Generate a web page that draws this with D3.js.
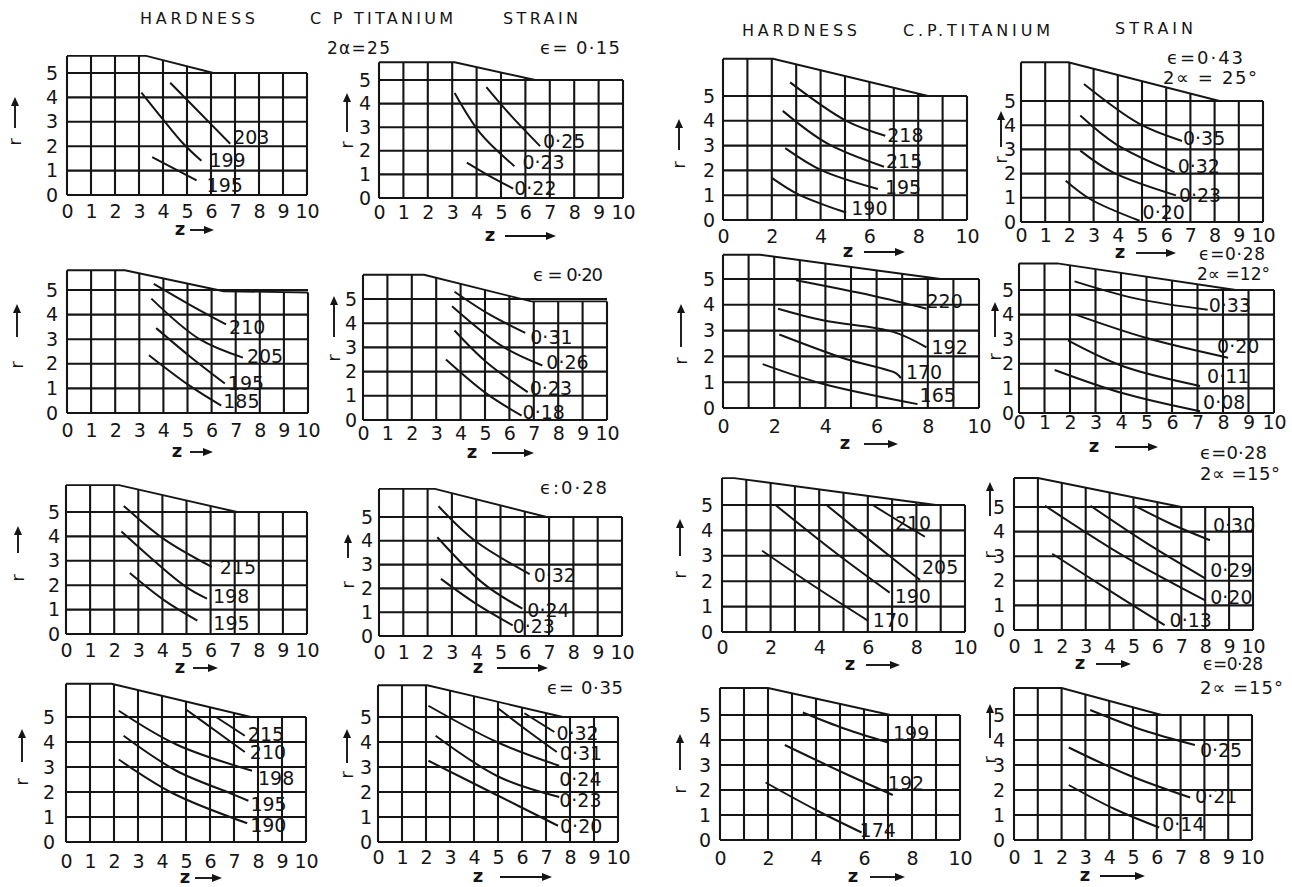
<!DOCTYPE html>
<html><head><meta charset="utf-8">
<script src="https://cdn.jsdelivr.net/npm/d3@7"></script>
<style>
body{margin:0;background:#fff}
svg{display:block;background:#fff}
text{font-family:"DejaVu Sans",sans-serif;fill:#151515}
</style></head><body>
<svg id="c" width="1292" height="887"></svg>
<script>
// ================= DATA =================
const ticksAll = [0,1,2,3,4,5,6,7,8,9,10];
const ticksEven = [0,2,4,6,8,10];
const rTicks = [0,1,2,3,4,5];

const annoTexts = ["HARDNESS","C P TITANIUM","STRAIN","2α=25","ϵ= 0·15","ϵ = 0·20","ϵ:0·28","ϵ= 0·35",
  "HARDNESS","C.P.TITANIUM","STRAIN","ϵ=0·43","2∝ = 25°","ϵ=0·28","2∝ =12°","ϵ=0·28","2∝ =15°","ϵ=0·28","2∝ =15°"];

// Left column A (hardness), column B (strain); right column C (hardness), D (strain)
const a1Labels = ["203","199","195"];
const a1Curves = [[[4.3,4.6],[5.5,3.4],[6.8,2.1]],[[3.1,4.2],[4.0,3.1],[4.85,2.1],[5.6,1.4]],[[3.55,1.55],[5.4,0.6]]];
const a1Profile = [[0,5.7],[3.3,5.7],[6.1,5],[10,5]];

const b1Labels = ["0·25","0·23","0·22"];
const b1Curves = [[[4.4,4.7],[5.4,3.5],[6.6,2.2]],[[3.1,4.45],[4.15,2.75],[5.55,1.35]],[[3.6,1.5],[4.5,0.95],[5.5,0.4]]];
const b1Profile = [[0,5.75],[3.1,5.75],[6.4,5],[10,5]];

const a2Labels = ["210","205","195","185"];
const a2Curves = [[[3.6,5.25],[5.1,4.4],[6.6,3.6]],[[3.5,4.65],[5.5,3.0],[7.3,2.25]],[[3.7,3.45],[5.1,2.3],[6.55,1.2]],[[3.4,2.35],[5.1,1.1],[6.4,0.3]]];
const a2Profile = [[0,5.8],[2.4,5.8],[6.5,4.95],[10,4.9]];

const b2Labels = ["0·31","0·26","0·23","0·18"];
const b2Curves = [[[3.75,5.3],[5.2,4.35],[6.65,3.6]],[[3.65,4.7],[5.7,3.05],[7.35,2.25]],[[3.75,3.7],[5.05,2.4],[6.75,1.15]],[[3.4,2.5],[5.05,1.1],[6.5,0.18]]];
const b2Profile = [[0,6.0],[2.5,6.0],[6.9,4.9],[10,4.9]];

const a3Labels = ["215","198","195"];
const a3Curves = [[[2.4,5.25],[4.05,3.9],[6.05,2.75]],[[2.3,4.2],[4.95,1.95],[5.85,1.45]],[[2.65,2.5],[4.05,1.4],[5.45,0.55]]];
const a3Profile = [[0,6.1],[2.2,6.1],[7.1,5],[10,5]];

const b3Labels = ["0·32","0·24","0·23"];
const b3Curves = [[[2.45,5.45],[3.95,4.0],[6.2,2.6]],[[2.4,4.15],[4.3,2.2],[5.9,1.15]],[[2.55,2.4],[4.0,1.35],[5.5,0.45]]];
const b3Profile = [[0,6.18],[2.3,6.18],[6.9,5],[10,5]];

const a4Labels = ["215","210","198","195","190"];
const a4Curves = [[[6.25,5.0],[7.45,4.25]],[[5.0,5.3],[6.3,4.4],[7.45,3.6]],[[2.2,5.25],[4.6,3.9],[7.75,2.85]],[[2.4,4.25],[4.6,2.85],[6.85,1.95],[7.6,1.65]],[[2.2,3.3],[4.45,1.95],[7.55,0.75]]];
const a4Profile = [[0,6.33],[1.9,6.33],[7.7,5],[10,5]];

const b4Labels = ["0·32","0·31","0·24","0·23","0·20"];
const b4Curves = [[[6.1,5.15],[7.35,4.4]],[[5.0,5.35],[6.3,4.4],[7.45,3.6]],[[2.1,5.45],[4.95,4.0],[7.55,3.05]],[[2.4,4.25],[5.05,2.6],[7.55,1.8]],[[2.1,3.25],[4.8,1.95],[7.5,0.65]]];
const b4Profile = [[0,6.27],[2.05,6.27],[7.7,5],[10,5]];

const c1Labels = ["218","215","195","190"];
const c1Curves = [[[2.75,5.55],[5.05,4.0],[6.65,3.4]],[[2.45,4.4],[4.25,3.1],[6.6,2.15]],[[2.55,2.9],[4.05,2.0],[6.35,1.25]],[[2.0,1.7],[3.15,1.0],[5.05,0.3]]];
const c1Profile = [[0,6.5],[2.05,6.5],[8.4,5],[10,5]];

const d1Labels = ["0·35","0·32","0·23","0·20"];
const d1Curves = [[[2.6,5.7],[4.9,4.05],[6.65,3.35]],[[2.45,4.4],[3.95,3.2],[6.35,2.05]],[[2.45,2.95],[3.8,2.05],[6.4,1.1]],[[1.85,1.7],[2.85,0.95],[4.9,0.05]]];
const d1Profile = [[0,6.6],[1.95,6.6],[8.2,5],[10,5]];

const c2Labels = ["220","192","170","165"];
const c2Curves = [[[2.85,4.95],[5.85,4.35],[7.95,3.85]],[[2.15,3.85],[3.9,3.4],[6.65,2.95],[7.95,2.35]],[[2.2,2.85],[4.8,1.9],[6.75,1.35],[6.95,1.15]],[[1.55,1.7],[3.85,0.95],[7.6,0.15]]];
const c2Profile = [[0,5.94],[1.45,5.94],[8.5,5],[10,5]];

const d2Labels = ["0·33","0·20","0·11","0·08"];
const d2Curves = [[[2.18,5.35],[4.6,4.65],[7.4,4.2]],[[2.22,4.0],[5.0,3.05],[8.2,2.25]],[[1.92,2.95],[4.08,1.9],[7.1,1.1]],[[1.4,1.75],[4.08,0.8],[7.1,0.07]]];
const d2Profile = [[0,6.08],[1.5,6.08],[8.5,5],[10,5]];

const c3Labels = ["210","205","190","170"];
const c3Curves = [[[6.2,5.0],[7.3,4.35],[8.35,3.75]],[[4.3,5.0],[6.3,3.45],[8.15,2.05]],[[2.2,5.0],[4.7,3.1],[6.9,1.55]],[[1.65,3.2],[3.8,1.8],[6.0,0.45]]];
const c3Profile = [[0,6.06],[0.5,6.06],[8.8,5],[10,5]];

const d3Labels = ["0·30","0·29","0·20","0·13"];
const d3Curves = [[[5.05,5.05],[6.6,4.3],[8.2,3.65]],[[3.2,5.05],[5.6,3.5],[8.0,2.1]],[[1.3,5.05],[4.6,3.0],[8.0,1.2]],[[1.6,3.1],[4.0,1.6],[6.3,0.2]]];
const d3Profile = [[0,6.18],[1.0,6.18],[7.0,5],[10,5]];

const c4Labels = ["199","192","174"];
const c4Curves = [[[3.45,5.1],[5.2,4.45],[7.0,3.9]],[[2.7,3.8],[5.0,2.75],[7.2,1.8]],[[1.9,2.3],[4.0,1.2],[5.9,0.3]]];
const c4Profile = [[0,6.08],[2.0,6.08],[7.1,5],[10,5]];

const d4Labels = ["0·25","0·21","0·14"];
const d4Curves = [[[3.2,5.2],[5.4,4.4],[7.6,3.8]],[[2.3,3.7],[4.8,2.6],[7.4,1.7]],[[2.3,2.2],[4.2,1.25],[6.1,0.5]]];
const d4Profile = [[0,6.08],[2.0,6.08],[6.2,5],[10,5]];

const panels = [
  {id:"A1",labels:a1Labels,curves:a1Curves,profile:a1Profile,ticks:ticksAll},
  {id:"B1",labels:b1Labels,curves:b1Curves,profile:b1Profile,ticks:ticksAll},
  {id:"A2",labels:a2Labels,curves:a2Curves,profile:a2Profile,ticks:ticksAll},
  {id:"B2",labels:b2Labels,curves:b2Curves,profile:b2Profile,ticks:ticksAll},
  {id:"A3",labels:a3Labels,curves:a3Curves,profile:a3Profile,ticks:ticksAll},
  {id:"B3",labels:b3Labels,curves:b3Curves,profile:b3Profile,ticks:ticksAll},
  {id:"A4",labels:a4Labels,curves:a4Curves,profile:a4Profile,ticks:ticksAll},
  {id:"B4",labels:b4Labels,curves:b4Curves,profile:b4Profile,ticks:ticksAll},
  {id:"C1",labels:c1Labels,curves:c1Curves,profile:c1Profile,ticks:ticksEven},
  {id:"D1",labels:d1Labels,curves:d1Curves,profile:d1Profile,ticks:ticksAll},
  {id:"C2",labels:c2Labels,curves:c2Curves,profile:c2Profile,ticks:ticksEven},
  {id:"D2",labels:d2Labels,curves:d2Curves,profile:d2Profile,ticks:ticksAll},
  {id:"C3",labels:c3Labels,curves:c3Curves,profile:c3Profile,ticks:ticksEven},
  {id:"D3",labels:d3Labels,curves:d3Curves,profile:d3Profile,ticks:ticksAll},
  {id:"C4",labels:c4Labels,curves:c4Curves,profile:c4Profile,ticks:ticksEven},
  {id:"D4",labels:d4Labels,curves:d4Curves,profile:d4Profile,ticks:ticksAll}
];

// ================= LAYOUT =================
const layout = {
  A1:{ox:67,x10:307,oy:195,y5:73,tickY:211,rPad:9,ra:[15,128,97,142],za:[180,230,190,214],off:[[3,-7],[8,-1],[10,5]]},
  B1:{ox:379,x10:623,oy:198,y5:80,tickY:212,rPad:8,ra:[347,132,93,145],za:[490,236,505,556],off:[[3,-5],[8,-4],[1,0]]},
  A2:{ox:67,x10:308,oy:413,y5:290,tickY:430,rPad:9,ra:[17,337,304,365],za:[177,452,190,213],off:[[3,3],[4,-1],[3,0],[2,-4]]},
  B2:{ox:363,x10:607,oy:420,y5:299,tickY:433,rPad:6,ra:[334,337,296,358],za:[472,453,492,534],off:[[5,4],[4,-3],[2,-4],[1,-3]]},
  A3:{ox:66,x10:307,oy:634,y5:512,tickY:650,rPad:6,ra:[18,553,526,578],za:[180,668,193,218],off:[[8,0],[6,-2],[16,3]]},
  B3:{ox:379,x10:622,oy:636,y5:517,tickY:652,rPad:6,ra:[348,558,534,585],za:[478,668,497,548],off:[[4,1],[5,2],[0,1]]},
  A4:{ox:66,x10:306,oy:842,y5:717,tickY:861,rPad:11,ra:[22,762,729,782],za:[185,878,195,222],off:[[3,-2],[5,0],[6,7],[2,3],[3,2]]},
  B4:{ox:378,x10:618,oy:842,y5:717,tickY:857,rPad:6,ra:[347,763,729,775],za:[478,877,500,552],off:[[2,1],[3,1],[0,13],[0,3],[2,0]]},
  C1:{ox:723,x10:967,oy:220,y5:96,tickY:236,rPad:8,ra:[679,150,119,165],za:[848,252,864,905],off:[[2,-1],[2,-6],[7,-2],[5,-4]]},
  D1:{ox:1021,x10:1263,oy:222,y5:101,tickY:235,rPad:5,ra:[1001,147,111,160],za:[1120,253,1136,1176],off:[[1,-3],[3,-6],[3,0],[3,-9]]},
  C2:{ox:723,x10:979,oy:408,y5:279,tickY:426,rPad:8,ra:[681,347,304,361],za:[845,444,864,898],off:[[0,-8],[5,0],[5,-6],[2,-9]]},
  D2:{ox:1019,x10:1274,oy:413,y5:290,tickY:421,rPad:5,ra:[995,337,302,357],za:[1094,447,1115,1158],off:[[1,-5],[-11,-11],[7,-10],[3,-9]]},
  C3:{ox:722,x10:965,oy:632,y5:505,tickY:647,rPad:9,ra:[680,556,519,575],za:[850,665,866,900],off:[[-30,-14],[2,-13],[5,4],[5,0]]},
  D3:{ox:1014,x10:1253,oy:630,y5:507,tickY:646,rPad:9,ra:[990,516,482,555],za:[1080,664,1096,1131],off:[[3,-15],[5,-8],[5,-3],[5,-5]]},
  C4:{ox:720,x10:960,oy:840,y5:715,tickY:858,rPad:9,ra:[680,770,734,790],za:[853,877,870,905],off:[[5,-9],[-5,-12],[-2,-2]]},
  D4:{ox:1014,x10:1252,oy:840,y5:715,tickY:857,rPad:9,ra:[990,738,704,760],za:[1085,876,1100,1145],off:[[5,5],[5,-1],[3,-3]]}
};
// [x, y, width, fontSize]
const annoPos = [[140,18,115,16],[310,18,143,16],[503,18,75,16],[327,48,63,17],[540,48,80,18],[533,275,70,18],[540,488,67,18],[547,688,76,18],
  [742,30,115,16],[903,30,147,16],[1115,28,78,16],[1167,58,76,18],[1163,78,94,18],[1199,254,66,17],[1197,274,73,17],[1200,453,67,18],[1200,474,80,18],[1203,664,60,17],[1200,688,83,18]];

// ================= DRAW =================
const svg = d3.select("#c");
const INK = "#151515";

svg.append("g").selectAll("text").data(annoTexts).join("text")
  .attr("x",(d,i)=>annoPos[i][0]).attr("y",(d,i)=>annoPos[i][1]).attr("dy","0.36em")
  .attr("font-size",(d,i)=>annoPos[i][3])
  .attr("textLength",(d,i)=>annoPos[i][2]).attr("lengthAdjust","spacing")
  .text(d=>d);

panels.forEach(p=>{
  const L = layout[p.id];
  const x = d3.scaleLinear().domain([0,10]).range([L.ox,L.x10]);
  const y = d3.scaleLinear().domain([0,5]).range([L.oy,L.y5]);
  const prof = d3.scaleLinear().domain(p.profile.map(d=>d[0])).range(p.profile.map(d=>d[1]));
  const g = svg.append("g");

  // grid: verticals up to die profile
  g.append("g").selectAll("line").data(ticksAll).join("line")
    .attr("x1",d=>x(d)).attr("x2",d=>x(d)).attr("y1",y(0)).attr("y2",d=>y(prof(d)))
    .attr("stroke",INK).attr("stroke-width",2.1);
  g.append("g").selectAll("line").data(rTicks).join("line")
    .attr("x1",x(0)).attr("x2",x(10)).attr("y1",d=>y(d)).attr("y2",d=>y(d))
    .attr("stroke",INK).attr("stroke-width",2.1);
  // die profile
  g.append("path").attr("d",d3.line().x(d=>x(d[0])).y(d=>y(d[1]))(p.profile))
    .attr("fill","none").attr("stroke",INK).attr("stroke-width",1.9);

  // curves
  const lg = d3.line().x(d=>x(d[0])).y(d=>y(d[1])).curve(d3.curveCatmullRom.alpha(0.5));
  g.append("g").selectAll("path").data(p.curves).join("path")
    .attr("d",d=>lg(d)).attr("fill","none").attr("stroke",INK).attr("stroke-width",2);
  g.append("g").selectAll("text").data(p.curves).join("text")
    .attr("x",(d,i)=>x(d[d.length-1][0])+L.off[i][0])
    .attr("y",(d,i)=>y(d[d.length-1][1])+L.off[i][1])
    .attr("dy","0.36em").attr("font-size",19)
    .text((d,i)=>p.labels[i]);

  // axes
  const ax = d3.axisBottom(x).tickValues(p.ticks).tickSize(0).tickPadding(L.tickY-L.oy-6).tickFormat(d3.format("d"));
  g.append("g").attr("transform",`translate(0,${L.oy})`).call(ax)
    .call(s=>s.select(".domain").remove())
    .attr("font-size",19).attr("font-family","DejaVu Sans, sans-serif").attr("color",INK);
  const ay = d3.axisLeft(y).tickValues(rTicks).tickSize(0).tickPadding(L.rPad).tickFormat(d3.format("d"));
  g.append("g").attr("transform",`translate(${L.ox},0)`).call(ay)
    .call(s=>s.select(".domain").remove())
    .attr("font-size",19).attr("font-family","DejaVu Sans, sans-serif").attr("color",INK);

  // r arrow
  const [rx,ry1,ry2,rly] = L.ra;
  g.append("line").attr("x1",rx).attr("x2",rx).attr("y1",ry1).attr("y2",ry2+7)
    .attr("stroke",INK).attr("stroke-width",1.9);
  g.append("path").attr("d",`M${rx},${ry2} L${rx-4},${ry2+9} L${rx+4},${ry2+9} Z`).attr("fill",INK);
  g.append("text").attr("transform",`translate(${rx+6},${rly}) rotate(-90)`)
    .attr("text-anchor","middle").attr("font-size",18).text("r");

  // z arrow
  const [zx,zy,za1,za2] = L.za;
  g.append("text").attr("x",zx).attr("y",zy).attr("dy","0.3em").attr("text-anchor","middle")
    .attr("font-size",18).attr("font-weight","bold").text("z");
  g.append("line").attr("x1",za1).attr("x2",za2-8).attr("y1",zy).attr("y2",zy)
    .attr("stroke",INK).attr("stroke-width",1.9);
  g.append("path").attr("d",`M${za2},${zy} L${za2-10},${zy-4} L${za2-10},${zy+4} Z`).attr("fill",INK);
});
</script>
</body></html>
